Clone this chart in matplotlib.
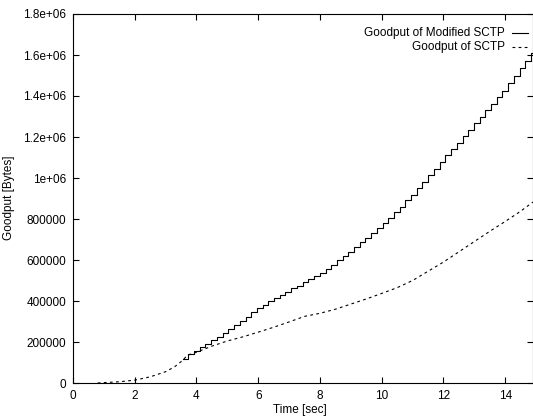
import matplotlib
matplotlib.use("Agg")
import matplotlib.pyplot as plt

# Goodput of SCTP (dashed)
sctp_t = [0.8, 1.0, 1.5, 2.0, 2.5, 3.0, 3.3, 3.55, 3.7, 4.0, 4.5, 5.0, 5.5, 6.0, 6.5,
          7.0, 7.5, 8.0, 8.5, 9.0, 9.5, 10.0, 10.5, 11.0, 11.5, 12.0, 12.5, 13.0,
          13.5, 14.0, 14.5, 14.9]
sctp_v = [0, 2000, 6000, 14000, 30000, 55000, 80000, 110000, 135000, 150000, 180000,
          205000, 225000, 248000, 272000, 298000, 325000, 340000, 360000, 385000,
          410000, 437000, 465000, 500000, 545000, 590000, 640000, 690000, 740000,
          788000, 838000, 883000]

# Goodput of Modified SCTP (staircase)
mod_t = [3.55, 3.74, 3.92, 4.11, 4.29, 4.48, 4.66, 4.85, 5.03, 5.22, 5.40, 5.59, 5.77,
         5.96, 6.14, 6.33, 6.51, 6.70, 6.88, 7.07, 7.25, 7.44, 7.62, 7.81, 7.99, 8.18,
         8.36, 8.55, 8.73, 8.92, 9.10, 9.29, 9.47, 9.66, 9.84, 10.03, 10.21, 10.40,
         10.58, 10.77, 10.95, 11.14, 11.32, 11.51, 11.69, 11.88, 12.06, 12.25, 12.43,
         12.62, 12.80, 12.99, 13.17, 13.36, 13.54, 13.73, 13.91, 14.10, 14.28, 14.47,
         14.65, 14.84, 15.0]
mod_v = [115000, 140000, 158000, 175000, 192000, 210000, 226000, 244000, 261000,
         283000, 303000, 324000, 344000, 366000, 381000, 398000, 413000, 429000,
         444000, 461000, 475000, 491000, 506000, 521000, 536000, 557000, 578000,
         599000, 620000, 641000, 663000, 686000, 709000, 733000, 755000, 780000,
         807000, 836000, 859000, 892000, 919000, 952000, 982000, 1015000, 1046000,
         1079000, 1110000, 1143000, 1173000, 1205000, 1236000, 1268000, 1299000,
         1331000, 1362000, 1394000, 1425000, 1461000, 1497000, 1535000, 1572000,
         1610000, 1610000]

x_ticks = [0, 2, 4, 6, 8, 10, 12, 14]
y_ticks = [0, 200000, 400000, 600000, 800000, 1000000, 1200000, 1400000, 1600000, 1800000]
y_tick_labels = ["0", "200000", "400000", "600000", "800000", "1e+06", "1.2e+06",
                 "1.4e+06", "1.6e+06", "1.8e+06"]

plt.rcParams['font.family'] = ['Liberation Sans', 'DejaVu Sans']
W, H = 533, 419
fig = plt.figure(figsize=(W / 100, H / 100), dpi=100)
ax = fig.add_axes([73 / W, (H - 383) / H, (W - 73) / W, (383 - 14) / H])

DASH = (0, (2.5, 3))
ax.plot(mod_t, mod_v, drawstyle='steps-post', color='black', lw=0.8)
ax.plot(sctp_t, sctp_v, color='black', lw=0.8, linestyle=DASH)

ax.set_xlim(0, 14.9)
ax.set_ylim(0, 1800000)
ax.set_xticks(x_ticks)
ax.set_xticklabels([str(v) for v in x_ticks])
ax.set_yticks(y_ticks)
ax.set_yticklabels(y_tick_labels)
ax.tick_params(direction='in', length=4, width=0.8, labelsize=8.5, top=True, right=True,
               pad=5, colors='black')
for s in ax.spines.values():
    s.set_linewidth(0.8)

fig.text(300 / W, 1 - 410 / H, "Time [sec]", ha='center', va='center', fontsize=8.5)
fig.text(9 / W, 1 - 198 / H, "Goodput [Bytes]", ha='center', va='center',
         rotation=90, fontsize=8.5)

# legend (gnuplot style: right-aligned text, sample to the right)
fig.text(505 / W, 1 - 33 / H, "Goodput of Modified SCTP", ha='right', va='center',
         fontsize=8.5)
fig.text(505 / W, 1 - 47 / H, "Goodput of SCTP", ha='right', va='center', fontsize=8.5)
fig.add_artist(plt.Line2D([512 / W, 528 / W], [1 - 33 / H, 1 - 33 / H], color='black',
                          lw=0.8))
fig.add_artist(plt.Line2D([512 / W, 528 / W], [1 - 47 / H, 1 - 47 / H], color='black',
                          lw=0.8, linestyle=DASH))

fig.savefig("out.png", dpi=100)
